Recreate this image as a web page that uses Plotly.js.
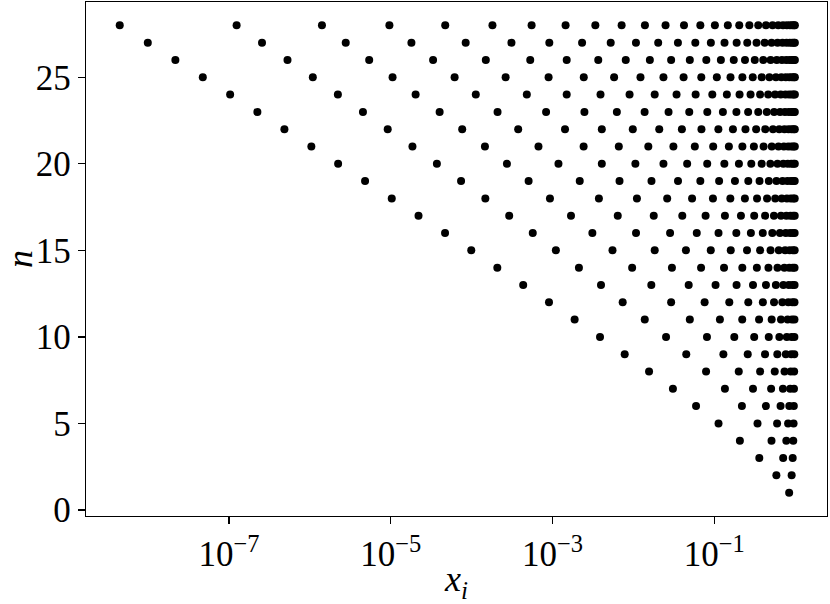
<!DOCTYPE html>
<html><head><meta charset="utf-8">
<script src="https://cdn.plot.ly/plotly-3.0.1.min.js"></script>
<style>html,body{margin:0;padding:0;background:#fff}#chart{width:830px;height:604px}</style>
</head><body><div id="chart"></div>
<script>
// log10(x_i), one array per n
const row1 = [-0.075];
const row2 = [-0.233, -0.044];
const row3 = [-0.444, -0.149, -0.031];
const row4 = [-0.684, -0.293, -0.110, -0.024];
const row5 = [-0.948, -0.466, -0.224, -0.088, -0.020];
const row6 = [-1.226, -0.659, -0.363, -0.181, -0.073, -0.017];
const row7 = [-1.512, -0.869, -0.522, -0.298, -0.152, -0.062, -0.015];
const row8 = [-1.807, -1.102, -0.698, -0.434, -0.253, -0.132, -0.055, -0.013];
const row9 = [-2.108, -1.347, -0.888, -0.587, -0.373, -0.221, -0.116, -0.048, -0.011];
const row10 = [-2.413, -1.597, -1.091, -0.753, -0.507, -0.327, -0.196, -0.104, -0.044, -0.010];
const row11 = [-2.727, -1.860, -1.303, -0.931, -0.655, -0.447, -0.291, -0.176, -0.094, -0.040, -0.009];
const row12 = [-3.044, -2.133, -1.534, -1.120, -0.815, -0.580, -0.400, -0.262, -0.159, -0.085, -0.036, -0.009];
const row13 = [-3.363, -2.401, -1.779, -1.317, -0.985, -0.725, -0.522, -0.362, -0.239, -0.146, -0.079, -0.034, -0.008];
const row14 = [-3.683, -2.674, -2.016, -1.524, -1.164, -0.880, -0.654, -0.474, -0.331, -0.219, -0.134, -0.073, -0.031, -0.008];
const row15 = [-4.005, -2.959, -2.259, -1.737, -1.351, -1.044, -0.797, -0.596, -0.434, -0.305, -0.203, -0.125, -0.068, -0.029, -0.007];
const row16 = [-4.329, -3.245, -2.508, -1.968, -1.547, -1.217, -0.948, -0.728, -0.548, -0.401, -0.283, -0.189, -0.116, -0.063, -0.027, -0.007];
const row17 = [-4.657, -3.536, -2.772, -2.194, -1.749, -1.396, -1.108, -0.869, -0.671, -0.507, -0.372, -0.263, -0.176, -0.109, -0.059, -0.026, -0.006];
const row18 = [-4.988, -3.831, -3.032, -2.427, -1.957, -1.583, -1.275, -1.017, -0.802, -0.622, -0.472, -0.348, -0.247, -0.166, -0.103, -0.056, -0.024, -0.006];
const row19 = [-5.318, -4.131, -3.296, -2.664, -2.172, -1.777, -1.449, -1.173, -0.941, -0.745, -0.580, -0.441, -0.326, -0.232, -0.156, -0.097, -0.053, -0.023, -0.006];
const row20 = [-5.651, -4.430, -3.564, -2.927, -2.391, -1.976, -1.629, -1.336, -1.088, -0.876, -0.696, -0.543, -0.415, -0.307, -0.219, -0.147, -0.092, -0.050, -0.022, -0.005];
const row21 = [-5.982, -4.732, -3.836, -3.174, -2.616, -2.181, -1.816, -1.506, -1.241, -1.014, -0.820, -0.653, -0.511, -0.391, -0.290, -0.207, -0.140, -0.087, -0.048, -0.021, -0.005];
const row22 = [-6.315, -5.038, -4.117, -3.425, -2.846, -2.391, -2.008, -1.681, -1.401, -1.159, -0.950, -0.770, -0.615, -0.483, -0.370, -0.275, -0.197, -0.133, -0.083, -0.046, -0.020, -0.005];
const row23 = [-6.649, -5.344, -4.396, -3.680, -3.080, -2.606, -2.205, -1.862, -1.566, -1.310, -1.087, -0.894, -0.727, -0.582, -0.457, -0.351, -0.261, -0.187, -0.127, -0.079, -0.044, -0.018, -0.005];
const row24 = [-6.986, -5.654, -4.693, -3.949, -3.318, -2.825, -2.407, -2.048, -1.737, -1.467, -1.231, -1.025, -0.845, -0.688, -0.552, -0.434, -0.334, -0.249, -0.179, -0.121, -0.076, -0.042, -0.018, -0.004];
const row25 = [-7.324, -5.964, -4.978, -4.211, -3.580, -3.049, -2.614, -2.239, -1.913, -1.629, -1.380, -1.161, -0.969, -0.800, -0.653, -0.525, -0.414, -0.319, -0.238, -0.171, -0.116, -0.073, -0.040, -0.017, -0.004];
const row26 = [-7.663, -6.277, -5.267, -4.477, -3.825, -3.276, -2.825, -2.435, -2.095, -1.797, -1.534, -1.303, -1.099, -0.919, -0.760, -0.621, -0.500, -0.395, -0.304, -0.228, -0.164, -0.111, -0.070, -0.038, -0.017, -0.004];
const row27 = [-8.004, -6.592, -5.557, -4.745, -4.074, -3.508, -3.040, -2.635, -2.281, -1.969, -1.694, -1.450, -1.235, -1.043, -0.874, -0.724, -0.593, -0.478, -0.378, -0.292, -0.218, -0.157, -0.107, -0.067, -0.037, -0.016, -0.004];
const row28 = [-8.351, -6.906, -5.851, -5.017, -4.327, -3.743, -3.259, -2.839, -2.471, -2.146, -1.858, -1.603, -1.375, -1.173, -0.993, -0.833, -0.692, -0.567, -0.457, -0.362, -0.280, -0.210, -0.151, -0.103, -0.064, -0.036, -0.016, -0.004];

const nValues = [1,2,3,4,5,6,7,8,9,10,11,12,13,14,15,16,17,18,19,20,21,22,23,24,25,26,27,28];
const rows = [row1,row2,row3,row4,row5,row6,row7,row8,row9,row10,row11,row12,row13,row14,
              row15,row16,row17,row18,row19,row20,row21,row22,row23,row24,row25,row26,row27,row28];

const xTickVals = [1e-7, 1e-5, 1e-3, 1e-1];
const xTickText = ['10<sup>\u22127</sup>', '10<sup>\u22125</sup>', '10<sup>\u22123</sup>', '10<sup>\u22121</sup>'];
const yTickVals = [0, 5, 10, 15, 20, 25];

const traces = rows.map((r, k) => ({
  type: 'scatter',
  mode: 'markers',
  x: r.map(v => Math.pow(10, v)),
  y: r.map(() => nValues[k]),
  marker: {color: '#000', size: 8, line: {width: 0}},
  hoverinfo: 'skip',
  showlegend: false
}));

const serif = '"Liberation Serif", "DejaVu Serif", serif';
const layout = {
  width: 830, height: 604,
  margin: {l: 86, r: 3, t: 2, b: 88, pad: 0},
  paper_bgcolor: '#fff', plot_bgcolor: '#fff',
  font: {family: serif, size: 35, color: '#000'},
  showlegend: false,
  xaxis: {
    type: 'log', range: [-8.768, 0.393], autorange: false,
    tickmode: 'array', tickvals: xTickVals, ticktext: xTickText,
    ticks: 'outside', ticklen: 7, tickwidth: 1.3, tickcolor: '#000',
    showline: true, linecolor: '#000', linewidth: 1.3, mirror: true,
    showgrid: false, zeroline: false, automargin: false,
    tickfont: {family: serif, size: 35, color: '#000'},
    title: {text: '<i>x</i><sub><i>i</i></sub>', standoff: 0, font: {family: serif, size: 36, color: '#000'}}
  },
  yaxis: {
    range: [-0.35, 29.35], autorange: false,
    tickmode: 'array', tickvals: yTickVals,
    ticks: 'outside', ticklen: 7, tickwidth: 1.3, tickcolor: '#000',
    showline: true, linecolor: '#000', linewidth: 1.3, mirror: true,
    showgrid: false, zeroline: false, automargin: false,
    tickfont: {family: serif, size: 35, color: '#000'},
    title: {text: '<i>n</i>', standoff: 6, font: {family: serif, size: 36, color: '#000'}}
  }
};

Plotly.newPlot('chart', traces, layout, {displayModeBar: false, staticPlot: true});
</script>
</body></html>
